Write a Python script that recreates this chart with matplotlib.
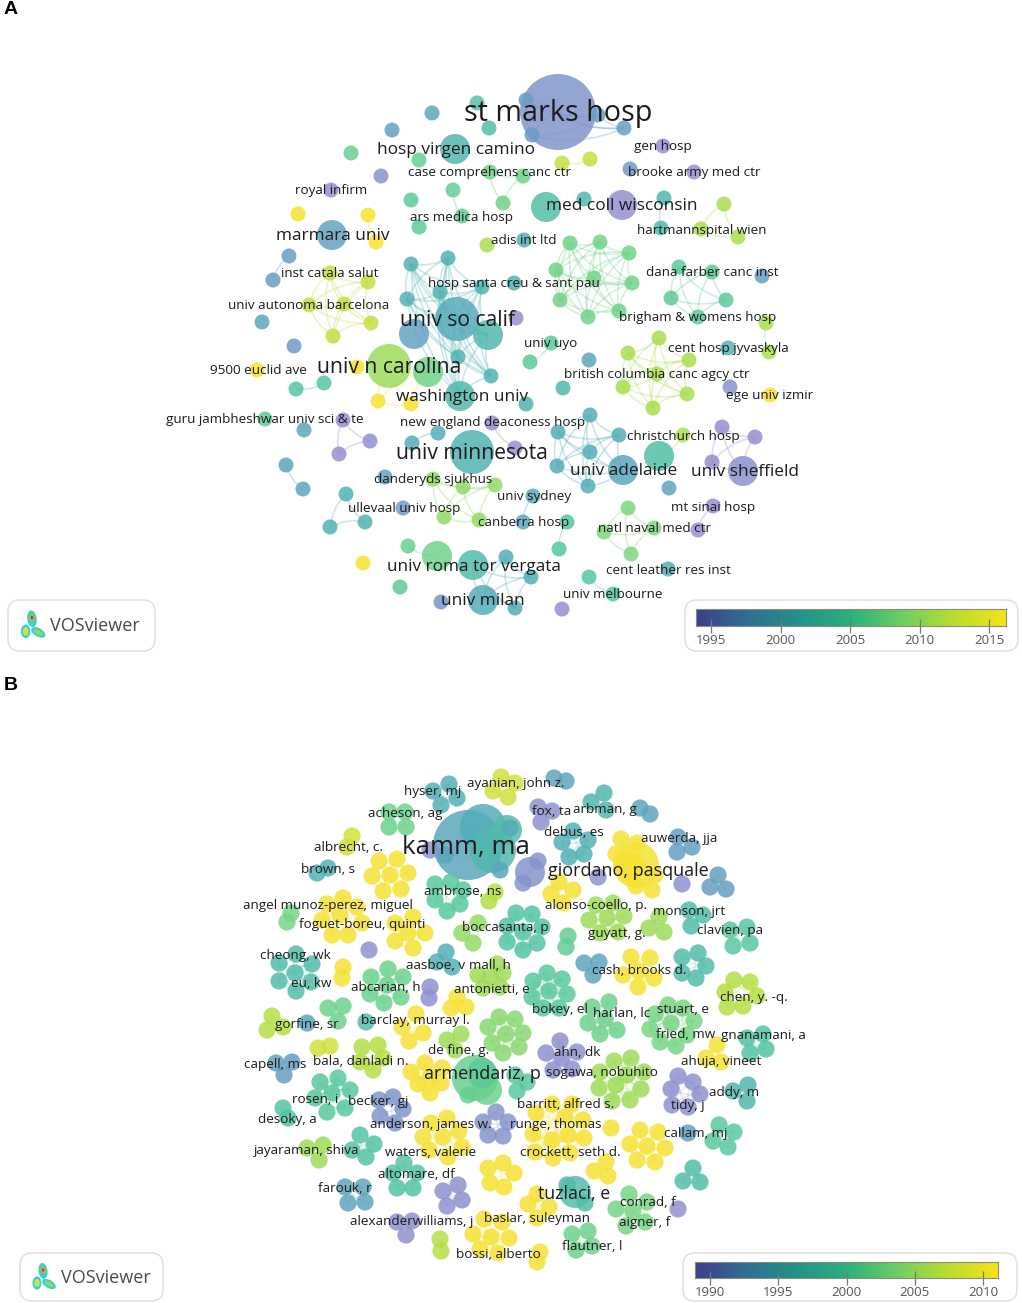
import matplotlib
matplotlib.use("Agg")
import matplotlib.pyplot as plt
from matplotlib.colors import LinearSegmentedColormap, Normalize
from matplotlib.patches import Circle, Ellipse, FancyBboxPatch, PathPatch
from matplotlib.path import Path
from itertools import combinations
import numpy as np

plt.rcParams['font.family'] = ['Open Sans', 'DejaVu Sans']

# ---- data: panel A (each cluster: nodes (x, y) or (x, y, radius, year)) ----
a_clusters = [
    [(558,112,38,1995.8),(526,100),(532,135),(598,115),(624,128)],
    [(477,103)], [(432,113)], [(489,128)], [(392,130)],
    [(455,149,15,2002.5)], [(351,153)], [(419,160)], [(381,176)],
    [(490,172),(523,176),(503,203)],
    [(331,190)],
    [(453,190),(462,216)], [(411,200)], [(419,227)],
    [(298,214)], [(368,215),(376,242)],
    [(332,235,15,1999)], [(487,245)],
    [(289,256),(273,280)],
    [(411,264),(448,258),(407,299),(440,292),(482,287),(457,319,22,2000.5),(488,335,15,2003),(458,357),(491,376),(460,396,15,2003)],
    [(330,273),(368,282),(309,305),(344,304),(371,323),(333,336)],
    [(262,322)], [(414,334,15,1999)], [(294,346)],
    [(389,366,22,2010.5),(428,372,15,2008),(378,401),(411,404)],
    [(357,367)], [(257,370)],
    [(296,389),(324,383)],
    [(265,419)], [(304,430)],
    [(343,420),(370,441),(339,454)],
    [(438,433),(412,443)],
    [(472,452,22,2002)],
    [(492,423),(515,448)],
    [(286,465),(303,489)], [(385,477)],
    [(433,479),(463,487),(495,485),(444,517),(479,520)],
    [(346,494),(365,522),(330,527)], [(403,508)],
    [(408,546),(437,556,15,2008)],
    [(473,565,15,2003.5),(506,557),(531,577),(515,608),(483,600,15,2001)],
    [(363,563)], [(400,587)], [(441,602)],
    [(530,362),(551,343)], [(589,360)], [(563,388)], [(526,404)],
    [(590,415),(558,432),(619,435),(590,452),(557,466),(588,486),(623,470,15,2000)],
    [(659,456,15,2004),(683,435)], [(669,488)],
    [(628,353),(659,338),(689,360),(623,387),(657,374),(687,394),(653,408)],
    [(728,348)], [(766,323),(769,352)], [(730,387)], [(770,395)],
    [(722,427),(755,437),(712,462),(743,471,15,1995)],
    [(713,506),(698,530)],
    [(628,508),(604,532),(654,528),(631,554)],
    [(533,496),(523,522)], [(567,522),(559,549)], [(668,569)],
    [(589,577),(613,594)], [(562,609)],
    [(663,146)], [(562,163),(590,159)], [(630,169)], [(694,172)],
    [(546,207,15,2004)], [(584,199)], [(622,205,15,1994)],
    [(664,198),(661,228)], [(724,204),(701,229),(738,237)], [(524,240)],
    [(570,243),(600,242),(629,253),(556,270),(594,278),(632,283),(560,300),(619,311),(588,317)],
    [(514,283)], [(516,318)],
    [(679,267),(712,272),(671,298),(726,300),(698,317)], [(762,276)],
]
a_years = [
    1998, 2004, 2000, 2003.5, 1999, 2002.5, 2007, 2007, 1995,
    2008, 1994, 2006.5, 2006, 2006,
    2015.5, 2015.5, 1999, 2011, 1998, 2002, 2012,
    2000, 1999, 1997, 2015.5, 2015.5, 2015.5, 2005,
    2006, 2000, 1994, 2001, 2002, 1993.9, 2000, 1999,
    2010, 2002, 1997, 2007, 2001, 2015.5, 2006, 1997,
    2006, 2000, 2003, 2002, 2001, 2011, 1999.5, 2011,
    2002, 2011, 1995, 2015, 1994, 1994, 2009, 2000, 2005, 2001,
    2005, 1994,
    1994, 2012, 1997, 1994, 2004, 2003, 1994, 2003, 2011, 2001,
    2008, 2002, 1994, 2006, 1998,
]
a_labels = ["st marks hosp","hosp virgen camino","gen hosp","case comprehens canc ctr","brooke army med ctr","royal infirm",
    "med coll wisconsin","ars medica hosp","hartmannspital wien","marmara univ","adis int ltd","inst catala salut",
    "dana farber canc inst","hosp santa creu & sant pau","univ autonoma barcelona","univ so calif","brigham & womens hosp",
    "univ uyo","cent hosp jyvaskyla","univ n carolina","9500 euclid ave","british columbia canc agcy ctr","washington univ",
    "ege univ izmir","guru jambheshwar univ sci & te","new england deaconess hosp","christchurch hosp","univ minnesota",
    "univ adelaide","univ sheffield","danderyds sjukhus","univ sydney","mt sinai hosp","ullevaal univ hosp","canberra hosp",
    "natl naval med ctr","univ roma tor vergata","cent leather res inst","univ melbourne","univ milan"]
a_label_x = [558,456,663,489,694,331,622,461,702,333,524,330,712,514,309,457,698,551,728,389,258,657,462,770,265,493,683,472,624,745,433,534,713,404,524,655,474,668,613,483]
a_label_y = [111,148,145,171,171,189,204,216,229,234,239,272,271,282,304,319,316,342,347,366,369,373,395,394,418,421,435,452,469,470,478,495,506,507,521,527,565,569,593,599]
a_label_pt = [20.7,12.4,9.7,9.7,9.7,9.7,12.4,9.7,9.7,12.4,9.7,9.7,9.7,9.7,9.7,15.2,9.7,9.7,9.7,15.2,9.7,9.7,12.4,9.7,9.7,9.7,9.7,15.2,12.4,12.4,9.7,9.7,9.7,9.7,9.7,9.7,12.3,9.7,9.7,12.4]

# ---- data: panel B ----
b_clusters = [
    [(433,791),(449,784),(457,798),(441,805)],
    [(501,777),(515,783),(493,791),(508,797)],
    [(389,812),(405,812),(389,827),(406,827)],
    [(468,845,35,1995),(483,827,23,1996),(493,850,23,1998),(507,830,15,1998.5),(500,870),(445,855),(510,828)],
    [(430,850)],
    [(352,836),(347,847)],
    [(328,868),(317,873)],
    [(379,861),(397,859),(372,876),(390,875),(408,873),(383,891),(401,889)],
    [(435,884),(451,882),(463,890),(435,900),(460,904),(447,911)],
    [(495,892),(489,901)],
    [(327,904),(343,898),(357,907),(322,920),(340,915),(362,923),(332,935),(348,935)],
    [(291,913),(287,922)],
    [(413,917),(395,923),(408,933),(425,933),(395,941),(413,948)],
    [(462,933),(473,943),(478,923)],
    [(516,913),(532,914),(507,926),(523,932),(542,927),(507,942),(537,943),(523,950)],
    [(369,950)],
    [(296,954),(279,963),(312,964),(295,973),(279,981),(311,982),(296,991)],
    [(343,967),(342,978)],
    [(388,969),(371,977),(403,977),(387,985),(370,994),(401,997),(384,1003)],
    [(446,952),(437,962),(452,967)],
    [(497,964),(478,975),(503,973),(490,977),(483,988),(500,987)],
    [(430,987),(429,998)],
    [(457,997),(451,1008),(466,1007)],
    [(272,1016),(267,1030),(283,1027)],
    [(307,1023)],
    [(328,1008),(343,1006),(338,1021)],
    [(366,1022)],
    [(402,1027),(423,1033),(409,1041),(416,1014)],
    [(447,1040),(461,1034),(455,1050)],
    [(499,1017),(515,1019),(488,1027),(506,1034),(523,1033),(492,1043),(519,1047),(503,1053)],
    [(276,1063),(292,1062),(284,1075)],
    [(318,1048),(330,1046)],
    [(362,1047),(378,1045),(383,1058),(360,1062),(373,1070)],
    [(425,1063),(411,1072),(442,1068),(418,1084),(441,1083),(430,1093),(430,1077)],
    [(475,1078,23,2002),(487,1090,15,2002.5),(482,1073,15,2001),(468,1095)],
    [(515,1075),(517,1091),(527,1082)],
    [(320,1082),(338,1078),(350,1090),(332,1093),(315,1098),(345,1108),(327,1112)],
    [(283,1108),(288,1118)],
    [(379,1100),(393,1097),(403,1109),(380,1116),(395,1123)],
    [(431,1123),(447,1118),(423,1137),(443,1137),(459,1131),(429,1150),(448,1157),(462,1147)],
    [(496,1112),(483,1122),(508,1122),(488,1135),(503,1136)],
    [(307,1148),(323,1145),(319,1160)],
    [(360,1135),(374,1144),(352,1150),(366,1157)],
    [(404,1163),(393,1173),(417,1173),(397,1188),(413,1188)],
    [(488,1168),(503,1163),(514,1173),(490,1183),(504,1187)],
    [(345,1187),(363,1187),(348,1203),(365,1202)],
    [(443,1191),(458,1185),(462,1200),(447,1206)],
    [(397,1222),(412,1221),(406,1235)],
    [(440,1239),(441,1251)],
    [(484,1219),(502,1222),(473,1234),(491,1237),(509,1238),(480,1249),(498,1253)],
    [(537,1194),(528,1204),(549,1207),(537,1218)],
    [(540,1252),(537,1262)],
    [(560,1041),(546,1053),(577,1052),(562,1058),(553,1070),(572,1069)],
    [(614,1061),(631,1058),(644,1072),(627,1075),(599,1088),(616,1085),(641,1089),(612,1101),(630,1100),(600,1072)],
    [(678,1076),(693,1082),(671,1089),(700,1094),(672,1105),(688,1107)],
    [(748,1085),(733,1091),(747,1101)],
    [(763,1034),(747,1038),(766,1049),(750,1053)],
    [(717,1045),(706,1058),(721,1062)],
    [(592,1007),(609,1002),(588,1023),(605,1019),(600,1034),(617,1030)],
    [(655,1014),(668,1005),(683,1008),(671,1023),(694,1021),(650,1029),(687,1035),(660,1042),(676,1046)],
    [(552,1104),(572,1104),(536,1113),(565,1117),(583,1120),(533,1134),(552,1140),(568,1135),(584,1138),(535,1152),(553,1158),(570,1153)],
    [(611,1128)],
    [(640,1130),(658,1132),(630,1144),(647,1146),(665,1148),(637,1160),(655,1162)],
    [(688,1133)],
    [(719,1125),(734,1132),(713,1141),(728,1147)],
    [(606,1162),(594,1171),(608,1176)],
    [(693,1168),(683,1181),(700,1182)],
    [(575,1192,16,1998.5),(567,1185),(585,1203)],
    [(629,1194),(647,1202),(616,1209),(633,1211),(626,1226),(645,1222)],
    [(678,1209)],
    [(572,1234),(588,1231),(576,1250),(592,1246)],
    [(554,778),(566,781)],
    [(538,807),(552,811),(541,822)],
    [(604,793),(591,802),(606,810)],
    [(640,808),(650,814)],
    [(573,831),(562,842),(588,840),(569,857),(584,854)],
    [(636,865,23,2009.5),(630,867,15,2009.5),(621,839),(637,843),(616,854),(655,875),(636,886),(652,890)],
    [(530,872,15,1990.5),(538,861),(523,883)],
    [(598,877)], [(682,884)],
    [(678,837),(692,847),(677,852)],
    [(718,875),(710,887),(726,889)],
    [(559,882),(573,890),(551,894),(563,903)],
    [(596,905),(613,903),(589,920),(607,918),(624,916),(600,933),(618,932)],
    [(659,917),(649,928),(664,932)],
    [(689,910),(703,915),(691,926)],
    [(747,927),(730,930),(733,946),(750,943)],
    [(568,936),(566,947)],
    [(584,963),(599,962),(593,975)],
    [(631,957),(650,958),(623,975),(639,971),(654,978),(638,987)],
    [(698,953),(682,957),(706,966),(682,973),(696,978)],
    [(734,980),(750,982),(725,992),(757,996),(727,1007),(743,1006)],
    [(547,973),(533,981),(562,979),(549,991),(567,994),(532,997),(543,1008),(559,1008)],
]
b_years = [
    1996.5, 2007.5, 2002.5, 1995, 1989.5, 2007.5, 1996.5, 2009.5, 2000.5, 2006.5,
    2009.5, 2003.5, 2009.5, 2005, 1999.5, 1989.5, 1998.5, 2009.5, 2002.5, 1996.5,
    2005.5, 1989.5, 2009.5, 2006.5, 1994.5, 2002.5, 1998.5, 2009, 2005.5, 2004.5,
    1993.5, 2007.5, 2006.5, 2009, 2002, 2000.5, 2000.5, 1999.5, 1991, 2009,
    1990.5, 2005.5, 1999.5, 1999.5, 2009.5, 1994.5, 1989.5, 1989.5, 2006.5, 2009,
    2009, 2009, 1989.5, 2005.5, 1989.5, 1997.5, 1999.5, 2009.5, 2002.5, 2003.5,
    2009, 2009.5, 2009.5, 1993.5, 2000.5, 2009.5, 1998.5, 1998.5, 2003.5, 1989.5,
    2002.5, 1994.5, 1989.5, 1997.5, 1994.5, 1996.5, 2009.5, 1990.5, 1989.5, 1989.5,
    1993.5, 1993.5, 2009.5, 2005.5, 2005.5, 1998.5, 2000.5, 2001.5, 1994.5, 2009.5,
    1998.5, 2006.5, 2000.5,
]
b_labels = ["ayanian, john z.","hyser, mj","arbman, g","fox, ta","acheson, ag","debus, es","auwerda, jja","albrecht, c.",
    "kamm, ma","brown, s","giordano, pasquale","ambrose, ns","alonso-coello, p.","angel munoz-perez, miguel","monson, jrt",
    "foguet-boreu, quinti","boccasanta, p","guyatt, g.","clavien, pa","cheong, wk","aasboe, v","mall, h","cash, brooks d.",
    "eu, kw","abcarian, h","antonietti, e","chen, y. -q.","bokey, el","harlan, lc","stuart, e","gorfine, sr","barclay, murray l.",
    "fried, mw","gnanamani, a","de fine, g.","bala, danladi n.","capell, ms","ahn, dk","ahuja, vineet","sogawa, nobuhito",
    "armendariz, p","addy, m","rosen, i","becker, gj","barritt, alfred s.","tidy, j","desoky, a","anderson, james w.",
    "runge, thomas","callam, mj","jayaraman, shiva","waters, valerie","crockett, seth d.","tuzlaci, e","altomare, df","farouk, r",
    "conrad, f","baslar, suleyman","aigner, f","alexanderwilliams, j","flautner, l","bossi, alberto"]
b_label_x = [516,433,605,552,405,574,679,348,466,328,628,463,596,328,689,362,505,617,730,295,436,490,639,311,386,492,754,560,622,683,307,415,686,763,459,361,275,577,721,602,482,734,315,378,566,688,287,431,556,696,307,431,570,574,416,345,648,537,645,412,592,498]
b_label_y = [782,790,808,810,812,831,837,846,845,868,869,890,904,904,910,923,926,932,929,954,964,964,969,982,986,988,996,1008,1012,1008,1023,1019,1033,1034,1049,1060,1063,1051,1060,1071,1072,1091,1098,1100,1103,1104,1118,1123,1123,1132,1149,1151,1151,1192,1173,1187,1201,1217,1221,1220,1245,1253]
b_label_pt = [9.7,9.7,9.7,9.7,9.7,9.7,9.7,9.7,18.6,9.7,13,9.7,9.7,9.7,9.7,9.7,9.7,9.7,9.7,9.7,9.7,9.7,9.7,9.7,9.7,9.7,9.7,9.7,9.7,9.7,9.7,9.7,9.7,9.7,9.7,9.7,9.7,9.7,9.7,9.7,13,9.7,9.7,9.7,9.7,9.7,9.7,9.7,9.7,9.7,9.7,9.7,9.7,12.8,9.7,9.7,9.7,9.7,9.7,9.7,9.7,9.7]

a_year_ticks = [1995, 2000, 2005, 2010, 2015]
a_year_range = (1993.9, 2016.2)
b_year_ticks = [1990, 1995, 2000, 2005, 2010]
b_year_range = (1988.9, 2011.1)

# ---- styles ----
BAR_COLORS = ['#3e3f8e', '#2f6f92', '#23938a', '#2bb07f', '#6ccf62', '#b9dd2e', '#f7e31c']
NODE_STOPS = [(0, '#948fd0'), (0.17, '#6a9ac4'), (0.33, '#50adb6'), (0.5, '#52c6a0'),
              (0.67, '#78d680'), (0.8, '#b8e040'), (0.9, '#f6e136'), (1, '#f7e32c')]
bar_cmap = LinearSegmentedColormap.from_list('bar', BAR_COLORS)
node_cmap = LinearSegmentedColormap.from_list('node', NODE_STOPS)

W, H = 1022, 1303
fig = plt.figure(figsize=(W / 100, H / 100), dpi=100)
ax = fig.add_axes([0, 0, 1, 1])
ax.set_xlim(0, W)
ax.set_ylim(H, 0)
ax.axis('off')


def draw_network(clusters, years, yrange, default_r, link_alpha):
    norm = Normalize(*yrange)
    nodes = []
    for cl, yr in zip(clusters, years):
        pts = [(n[0], n[1], n[2] if len(n) > 2 else default_r, n[3] if len(n) > 2 else yr) for n in cl]
        nodes.extend(pts)
        col = node_cmap(norm(yr))
        for p, q in combinations(pts, 2):
            p0, q0 = np.array(p[:2], float), np.array(q[:2], float)
            d = q0 - p0
            ctrl = (p0 + q0) / 2 + 0.18 * np.array([-d[1], d[0]])
            path = Path([p0, ctrl, q0], [Path.MOVETO, Path.CURVE3, Path.CURVE3])
            ax.add_patch(PathPatch(path, fc='none', ec=col, lw=1.2, alpha=link_alpha, zorder=1))
    for x, y, r, yr in sorted(nodes, key=lambda n: -n[2]):
        ax.add_patch(Circle((x, y), r, fc=node_cmap(norm(yr)), ec='none', alpha=0.84, zorder=2))


def draw_labels(labels, xs, ys, pts):
    for t, x, y, s in zip(labels, xs, ys, pts):
        ax.text(x, y + 1.5 + s * 0.03, t, ha='center', va='center', fontsize=s, color='#1c1c1c', zorder=5)


def rounded_box(x0, y0, x1, y1):
    ax.add_patch(FancyBboxPatch((x0 + 12, y0 + 12), x1 - x0 - 24, y1 - y0 - 24,
                                boxstyle='round,pad=12,rounding_size=12', fc='white', ec='#e2e2e2', lw=1.2, zorder=6))


def draw_logo(x, y, s):
    blobs = [(-1, -6, 9, 16, -8, '#35cfe0'), (5, 7, 15, 8, 30, '#35cfe0'), (-7, 6, 9, 13, 0, '#35cfe0'),
             (-1, -7, 6.5, 11, -8, '#58c9a0'), (5, 7, 10, 4.5, 30, '#8fd860'), (-7, 6, 5.5, 8, 0, '#d8e040'),
             (-1, -7, 3.5, 6.5, 0, '#e8b020'), (-1, -7, 2.2, 3.6, 0, '#d8301c')]
    for dx, dy, w, h, ang, c in blobs:
        ax.add_patch(Ellipse((x + dx * s, y + dy * s), w * s, h * s, angle=ang, fc=c, ec='none', zorder=7))


def draw_colorbar(left, right, top, bottom, yrange, ticks):
    cax = fig.add_axes([left / W, 1 - bottom / H, (right - left) / W, (bottom - top) / H], zorder=8)
    cax.imshow(np.linspace(0, 1, 256)[None, :], cmap=bar_cmap, aspect='auto',
               extent=[yrange[0], yrange[1], 0, 1])
    cax.set_xlim(*yrange)
    cax.set_xticks(ticks)
    cax.set_yticks([])
    cax.tick_params(axis='x', direction='inout', length=9.5, width=0.9, color='#777777',
                    labelcolor='#555555', labelsize=9.5, pad=1)
    for sp in cax.spines.values():
        sp.set_edgecolor('#8a8a7a')
        sp.set_linewidth(0.8)


# Panel A
draw_network(a_clusters, a_years, a_year_range, 7.5, 0.3)
draw_labels(a_labels, a_label_x, a_label_y, a_label_pt)
# Panel B
draw_network(b_clusters, b_years, b_year_range, 8.6, 0.2)
draw_labels(b_labels, b_label_x, b_label_y, b_label_pt)

ax.text(4, 9, 'A', fontsize=14, fontweight='bold', family='Liberation Sans', va='center', color='black')
ax.text(4, 685, 'B', fontsize=14, fontweight='bold', family='Liberation Sans', va='center', color='black')

rounded_box(8, 600, 155, 651)
draw_logo(33, 625, 1.05)
ax.text(50, 626, 'VOSviewer', fontsize=13, color='#4a4a4a', va='center', zorder=7)
rounded_box(20, 1253, 163, 1301)
draw_logo(44, 1277, 1.0)
ax.text(61, 1278, 'VOSviewer', fontsize=13, color='#4a4a4a', va='center', zorder=7)

rounded_box(685, 600, 1018, 651)
draw_colorbar(696, 1006, 609, 626, a_year_range, a_year_ticks)
rounded_box(683, 1253, 1017, 1301)
draw_colorbar(695, 998, 1262, 1278, b_year_range, b_year_ticks)

fig.savefig('out.png', dpi=100)
